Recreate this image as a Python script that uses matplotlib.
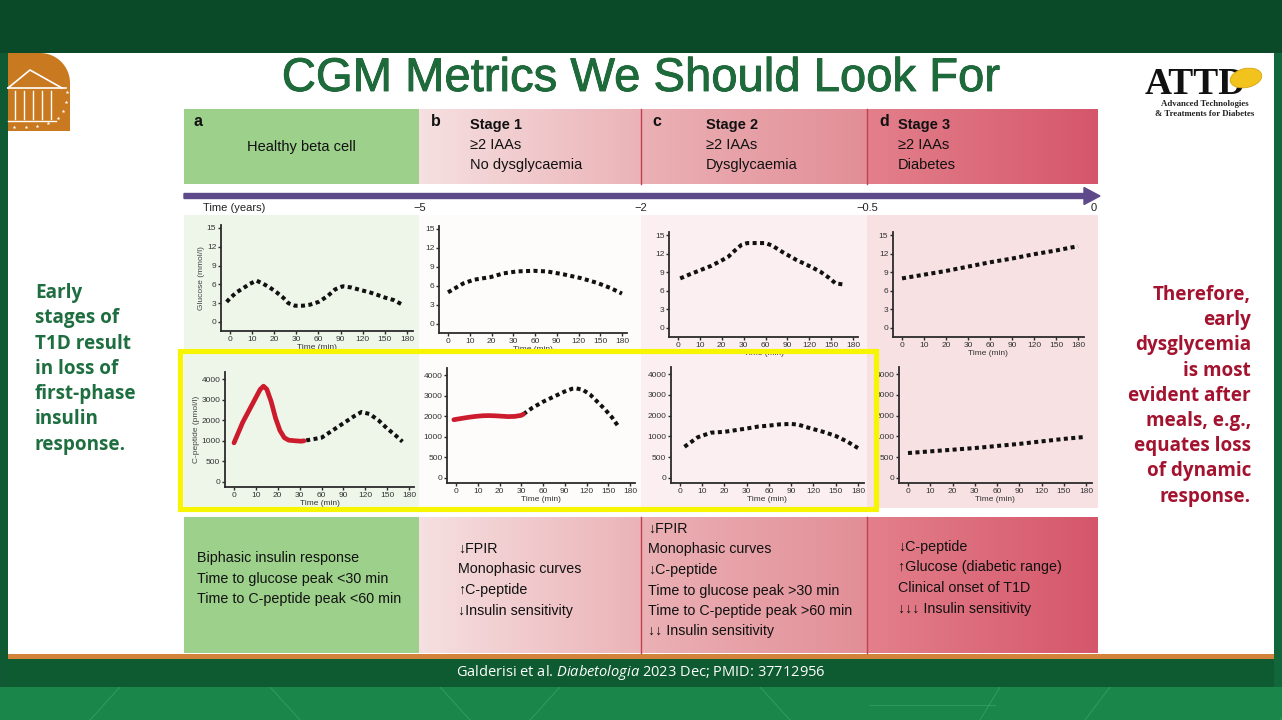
import matplotlib
matplotlib.use("Agg")
import matplotlib.pyplot as plt
import matplotlib.patheffects as pe
import numpy as np
from matplotlib.patches import Rectangle, Polygon, FancyArrow, Ellipse
from matplotlib.colors import to_rgb

plt.rcParams['font.family'] = ['Liberation Sans', 'DejaVu Sans']
plt.rcParams['mathtext.fontset'] = 'custom'
plt.rcParams['mathtext.rm'] = 'Open Sans'
plt.rcParams['mathtext.it'] = 'Open Sans:italic'

W, H = 1282, 720

# ---- data -------------------------------------------------------------
time_ticks = [0, 10, 20, 30, 60, 90, 120, 150, 180]
glucose_ticks = [0, 3, 6, 9, 12, 15]
cpep_ticks = [0, 500, 1000, 2000, 3000, 4000]

# glucose (mmol/l) per stage
glu_a_t = [-1.5, 0, 3, 6, 9, 12, 15, 18, 21, 24, 26.4, 29.4, 39, 48, 60, 72, 82.5, 93, 105, 117, 129, 138, 150, 162, 174]
glu_a_v = [3.2, 3.8, 4.75, 5.4, 6.1, 6.6, 6.1, 5.5, 4.75, 3.9, 3.0, 2.6, 2.6, 2.75, 3.2, 4.1, 5.2, 5.7, 5.5, 5.1, 4.75, 4.4, 3.9, 3.5, 2.75]
glu_b_t = [0, 7, 12, 19.5, 25.6, 35, 58, 76.5, 99, 123, 145.5, 163.8, 180]
glu_b_v = [5.0, 6.4, 7.0, 7.4, 8.0, 8.3, 8.4, 8.3, 7.85, 7.25, 6.5, 5.7, 4.8]
glu_c_t = [1, 5, 10, 15, 20, 23, 26, 29, 35, 45, 60, 69, 84, 102, 120, 135, 147, 156, 168]
glu_c_v = [8.0, 8.6, 9.3, 10.0, 10.9, 11.5, 12.5, 13.4, 13.7, 13.7, 13.7, 13.3, 12.2, 11.0, 10.0, 9.1, 8.1, 7.2, 7.0]
glu_d_t = [0, 10, 20, 30, 60, 90, 120, 150, 180]
glu_d_v = [8.0, 8.6, 9.2, 9.9, 10.6, 11.2, 11.9, 12.5, 13.2]

# C-peptide (pmol/l): first phase (red) and later response (dotted)
cp_a_red_t = [0, 2, 4, 6, 8, 10, 12, 13.5, 15, 17, 19, 21, 23, 25, 28, 32, 36]
cp_a_red_v = [950, 1400, 1900, 2300, 2700, 3100, 3500, 3650, 3500, 2900, 2100, 1500, 1150, 1030, 1000, 990, 1000]
cp_a_t = [39, 60, 75, 90, 105, 115, 126, 138, 150, 162, 171]
cp_a_v = [1020, 1150, 1500, 1850, 2200, 2400, 2300, 2000, 1600, 1250, 980]
cp_b_red_t = [-1, 3, 6, 9, 12, 15, 18, 21, 24, 27, 30, 33]
cp_b_red_v = [1830, 1900, 1950, 1990, 2020, 2030, 2020, 2000, 1980, 1990, 2040, 2100]
cp_b_t = [33, 45, 60, 75, 90, 100, 106, 115, 125, 135, 145, 155, 163]
cp_b_v = [2100, 2400, 2700, 2950, 3200, 3330, 3350, 3280, 3050, 2700, 2350, 1950, 1550]
cp_c_t = [2, 8, 14, 20, 30, 45, 60, 75, 90, 100, 110, 120, 135, 150, 165, 180]
cp_c_v = [750, 980, 1180, 1220, 1380, 1470, 1520, 1580, 1600, 1560, 1450, 1350, 1200, 1020, 880, 720]
cp_d_t = [0, 10, 20, 30, 60, 90, 120, 150, 180]
cp_d_v = [600, 640, 680, 720, 770, 820, 880, 940, 990]

stage_letters = ['a', 'b', 'c', 'd']
stage_titles = ['', 'Stage 1', 'Stage 2', 'Stage 3']
stage_lines = [['Healthy beta cell'], ['≥2 IAAs', 'No dysglycaemia'],
               ['≥2 IAAs', 'Dysglycaemia'], ['≥2 IAAs', 'Diabetes']]
years = ['Time (years)', '−5', '−2', '−0.5', '0']
notes = [
    ['Biphasic insulin response', 'Time to glucose peak <30 min', 'Time to C-peptide peak <60 min'],
    ['↓FPIR', 'Monophasic curves', '↑C-peptide', '↓Insulin sensitivity'],
    ['↓FPIR', 'Monophasic curves', '↓C-peptide', 'Time to glucose peak >30 min',
     'Time to C-peptide peak >60 min', '↓↓ Insulin sensitivity'],
    ['↓C-peptide', '↑Glucose (diabetic range)', 'Clinical onset of T1D', '↓↓↓ Insulin sensitivity'],
]
left_msg = ['Early', 'stages of', 'T1D result', 'in loss of', 'first-phase', 'insulin', 'response.']
right_msg = ['Therefore,', 'early', 'dysglycemia', 'is most', 'evident after',
             'meals, e.g.,', 'equates loss', 'of dynamic', 'response.']

# ---- canvas -----------------------------------------------------------
fig = plt.figure(figsize=(W / 100, H / 100), dpi=100)
bg = fig.add_axes([0, 0, 1, 1])
bg.axis('off')


def grad(x0, x1, y0, y1, c0, c1, z=1):
    a = np.linspace(0, 1, 256)[None, :, None]
    img = (1 - a) * np.array(to_rgb(c0)) + a * np.array(to_rgb(c1))
    bg.imshow(img, extent=(x0, x1, y1, y0), aspect='auto', zorder=z, interpolation='bilinear')


def box(x0, x1, y0, y1, c, z=1, **kw):
    bg.add_patch(Rectangle((x0, y0), x1 - x0, y1 - y0, facecolor=c, edgecolor='none', zorder=z, **kw))


# outer frame
box(0, W, 0, H, '#13703f', z=0)
box(0, W, 0, 53, '#0b4a29', z=0.5)
box(0, 8, 53, 690, '#0f5a33', z=0.5)
box(1274, W, 53, 690, '#11663a', z=0.5)
box(0, W, 687, H, '#1b8649', z=0.5)
for xa, xb in [(120, 90), (270, 300), (560, 530), (760, 790), (1110, 1085), (1310, 1280), (440, 470), (1000, 980)]:
    bg.plot([xa, xb], [687, H], color='#3fae6e', lw=0.8, alpha=0.5, zorder=0.6)
bg.plot([870, 995], [705, 705], color='#3fae6e', lw=0.8, alpha=0.5, zorder=0.6)
box(8, 1274, 53, 655, 'white', z=0.7)
box(8, 1274, 654, 659, '#d4843a', z=0.8)
box(8, 1274, 659, 687, '#0e5a31', z=0.8)
bg.text(641, 672, r'Galderisi et al. $\mathit{Diabetologia}$ 2023 Dec; PMID: 37712956',
        family='Open Sans', fontsize=10.5, color='white', ha='center', va='center', zorder=3)

# title
bg.text(641, 79, 'CGM Metrics We Should Look For', fontsize=34, color='#1d6b3a',
        ha='center', va='center', zorder=3,
        path_effects=[pe.withStroke(linewidth=0.6, foreground='#17592f')])

# left logo
th = np.linspace(0, np.pi / 2, 30)
logo = np.r_[[[8, 131], [8, 53], [40, 53]], [[40 + 30 * np.sin(t), 83 - 30 * np.cos(t)] for t in th], [[70, 131]]]
bg.add_patch(Polygon(logo, closed=True, facecolor='#c9791f', edgecolor='none', zorder=2))
bg.plot([8, 30, 62], [88, 70, 88], color='white', lw=1.2, zorder=3)
bg.plot([8, 66], [88, 88], color='white', lw=1.2, zorder=3)
for xc in [15, 24, 33, 42, 51]:
    bg.plot([xc, xc], [91, 119], color='white', lw=1.0, zorder=3)
bg.plot([8, 56], [121, 121], color='white', lw=1.0, zorder=3)
stars_x = [67, 66, 63, 58, 48, 37, 26, 14]
stars_y = [92, 102, 111, 118, 123, 126, 127, 127]
bg.scatter(stars_x, stars_y, marker='*', s=8, color='white', zorder=3, linewidths=0)

# ATTD logo
bg.text(1145, 94, 'ATTD', family='Liberation Serif', weight='bold', fontsize=27,
        color='#111111', ha='left', va='baseline', zorder=3)
bg.add_patch(Ellipse((1246, 78), 32, 19, angle=-12, facecolor='#f2c31c', edgecolor='#d9a514',
                     lw=0.6, zorder=4))
bg.text(1205, 104, 'Advanced Technologies', family='Liberation Serif', weight='bold',
        fontsize=6.3, color='#222222', ha='center', va='center', zorder=3)
bg.text(1205, 114, '& Treatments for Diabetes', family='Liberation Serif', weight='bold',
        fontsize=6.3, color='#222222', ha='center', va='center', zorder=3)

# header and bottom stage bands
cols = [(184, 419), (419, 641), (641, 867), (867, 1098)]
band_c = [('#9dd18b', '#9dd18b'), ('#f6e0e1', '#ebb3b7'), ('#ebb1b5', '#e28e97'), ('#e3808b', '#d5566a')]
for (x0, x1), (c0, c1) in zip(cols, band_c):
    grad(x0, x1, 109, 184, c0, c1, z=1)
    grad(x0, x1, 517, 653, c0, c1, z=1)
for xs in [641, 867]:
    bg.plot([xs, xs], [109, 184], color='#c43e4e', lw=1, zorder=2)
    bg.plot([xs, xs], [517, 653], color='#c43e4e', lw=1, zorder=2)

letter_x = [193, 431, 652, 879]
text_x = [470, 706, 898]
for i, (x0, x1) in enumerate(cols):
    bg.text(letter_x[i], 122, stage_letters[i], weight='bold', fontsize=11.5, color='#111111',
            ha='left', va='center', zorder=3)
    if i == 0:
        bg.text((x0 + x1) / 2, 147, stage_lines[0][0], fontsize=10.5, color='#111111',
                ha='center', va='center', zorder=3)
    else:
        tx = text_x[i - 1]
        bg.text(tx, 125, stage_titles[i], weight='bold', fontsize=10.5, color='#111111',
                ha='left', va='center', zorder=3)
        for k, s in enumerate(stage_lines[i]):
            bg.text(tx, 145 + 20 * k, s, fontsize=10.5, color='#111111',
                    ha='left', va='center', zorder=3)

# bottom notes
note_x = [197, 458, 648, 898]
note_y0 = [558, 549, 529, 547]
for i in range(4):
    for k, s in enumerate(notes[i]):
        bg.text(note_x[i], note_y0[i] + 20.5 * k, s, fontsize=10.3, color='#111111',
                ha='left', va='center', zorder=3)

# timeline arrow
bg.add_patch(FancyArrow(184, 196, 916, 0, width=5, head_width=17, head_length=16,
                        length_includes_head=True, color='#5e4a8b', zorder=3))
years_x = [203, 420, 641, 867, 1094]
for k, (s, xv) in enumerate(zip(years, years_x)):
    bg.text(xv, 208, s, fontsize=8, color='#222222', ha='left' if k == 0 else 'center',
            va='center', zorder=3)

# panel backgrounds
panel_bg = ['#eef6ea', '#fefbfb', '#fbeff1', '#f7e1e3']
for (x0, x1), c in zip(cols, panel_bg):
    box(x0, x1, 215, 508, c, z=1)

# side messages
for k, s in enumerate(left_msg):
    bg.text(35, 293 + 25.3 * k, s, family='Open Sans', weight='bold', fontsize=13.6,
            color='#1e6e40', ha='left', va='center', zorder=3)
for k, s in enumerate(right_msg):
    bg.text(1251, 295 + 25.2 * k, s, family='Open Sans', weight='bold', fontsize=13.6,
            color='#a3122e', ha='right', va='center', zorder=3)

bg.set_xlim(0, W)
bg.set_ylim(H, 0)


# ---- small charts -----------------------------------------------------
def stretch(ticks):
    t = np.asarray(ticks, float)
    p = np.arange(len(t), dtype=float)
    t = np.r_[t[0] - 10 * (t[1] - t[0]), t, t[-1] + 10 * (t[-1] - t[-2])]
    p = np.r_[-10.0, p, p[-1] + 10.0]
    return (lambda v: np.interp(v, t, p)), (lambda q: np.interp(q, p, t))


XLIM_P = (-0.4, 8.25)


def panel(x0, x8, ylo, yhi, yticks, ylim_p, ylabel=None):
    sx = (x8 - x0) / 8.0
    sy = (ylo - yhi) / (len(yticks) - 1)
    left, right = x0 + XLIM_P[0] * sx, x0 + XLIM_P[1] * sx
    bottom, top = ylo - ylim_p[0] * sy, ylo - ylim_p[1] * sy
    ax = fig.add_axes([left / W, 1 - bottom / H, (right - left) / W, (bottom - top) / H])
    ax.set_facecolor('none')
    fx, ix = stretch(time_ticks)
    fy, iy = stretch(yticks)
    ax.set_xscale('function', functions=(fx, ix))
    ax.set_yscale('function', functions=(fy, iy))
    ax.set_xlim(ix(XLIM_P[0]), ix(XLIM_P[1]))
    ax.set_ylim(iy(ylim_p[0]), iy(ylim_p[1]))
    ax.set_xticks(time_ticks)
    ax.set_xticklabels([str(v) for v in time_ticks])
    ax.set_yticks(yticks)
    ax.set_yticklabels([str(v) for v in yticks])
    ax.minorticks_off()
    for s in ['top', 'right']:
        ax.spines[s].set_visible(False)
    for s in ['left', 'bottom']:
        ax.spines[s].set_color('#2b2b2b')
        ax.spines[s].set_linewidth(1.3)
    ax.tick_params(length=2.5, width=1, labelsize=6, pad=1, colors='#2b2b2b', labelcolor='#333333')
    ax.set_xlabel('Time (min)', fontsize=6, color='#333333', labelpad=1)
    if ylabel:
        ax.set_ylabel(ylabel, fontsize=6, color='#444444', labelpad=1)
    return ax


dot = dict(color='#111111', lw=2.9, dashes=(1.0, 0.85), dash_capstyle='butt')
red = dict(color='#cc1b2d', lw=3.4, solid_capstyle='round')

GLU_LIM = (-0.47, 5.17)
CP_LIM = (-0.25, 5.35)

ax = panel(230, 407, 322, 228, glucose_ticks, GLU_LIM, 'Glucose (mmol/l)')
ax.plot(glu_a_t, glu_a_v, **dot)
ax = panel(448, 622, 324, 229, glucose_ticks, GLU_LIM)
ax.plot(glu_b_t, glu_b_v, **dot)
ax = panel(678, 853, 328, 235, glucose_ticks, GLU_LIM)
ax.plot(glu_c_t, glu_c_v, **dot)
ax = panel(902, 1078, 328, 235, glucose_ticks, GLU_LIM)
ax.plot(glu_d_t, glu_d_v, **dot)

ax = panel(234, 409, 482, 379, cpep_ticks, CP_LIM, 'C-peptide (pmol/l)')
ax.plot(cp_a_t, cp_a_v, **dot)
ax.plot(cp_a_red_t, cp_a_red_v, **red)
ax = panel(456, 630, 478, 375, cpep_ticks, CP_LIM)
ax.plot(cp_b_t, cp_b_v, **dot)
ax.plot(cp_b_red_t, cp_b_red_v, **red)
ax = panel(680, 858, 478, 374, cpep_ticks, CP_LIM)
ax.plot(cp_c_t, cp_c_v, **dot)
ax = panel(908, 1086, 478, 374, cpep_ticks, CP_LIM)
ax.plot(cp_d_t, cp_d_v, **dot)

# yellow highlight on top
top_ax = fig.add_axes([0, 0, 1, 1])
top_ax.set_facecolor('none')
top_ax.axis('off')
top_ax.set_xlim(0, W)
top_ax.set_ylim(H, 0)
top_ax.add_patch(Rectangle((179.5, 350.5), 696.5, 158, facecolor='none', edgecolor='#f7f500',
                           lw=3.7, zorder=5))

fig.savefig('out.png', dpi=100)
